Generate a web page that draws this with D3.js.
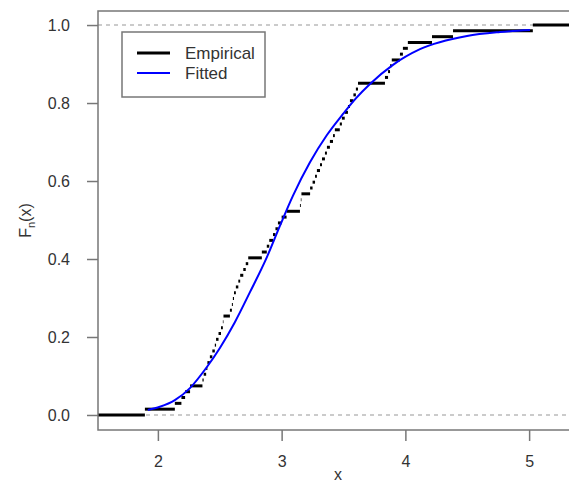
<!DOCTYPE html>
<html>
<head>
<meta charset="utf-8">
<script src="https://cdn.jsdelivr.net/npm/d3@7"></script>
<style>
  body { margin: 0; background: #fff; }
  text { font-family: "Liberation Sans", Arial, sans-serif; }
</style>
</head>
<body>
<div id="chart-area"></div>
<script>
var sample = [1.895, 2.137, 2.19, 2.22, 2.26, 2.36, 2.37, 2.39, 2.40, 2.42,
              2.44, 2.46, 2.47, 2.49, 2.51, 2.525, 2.53, 2.582, 2.598, 2.606,
              2.615, 2.63, 2.65, 2.665, 2.69, 2.71, 2.73, 2.84, 2.88, 2.90,
              2.93, 2.95, 2.97, 3.00, 3.04, 3.148, 3.155, 3.16, 3.23, 3.25,
              3.27, 3.285, 3.31, 3.326, 3.35, 3.366, 3.39, 3.415, 3.43, 3.47,
              3.487, 3.51, 3.536, 3.552, 3.58, 3.60, 3.617, 3.835, 3.86, 3.876,
              3.89, 3.956, 3.98, 4.02, 4.215, 4.385, 5.03];

// fitted curve, points
var fitX = [1.919, 2.016, 2.137, 2.259, 2.396, 2.501, 2.622, 2.744, 2.881, 2.986,
            3.091, 3.229, 3.366, 3.496, 3.600, 3.714, 3.900, 4.118, 4.498, 4.765, 5.007];
var fitY = [0.013, 0.021, 0.038, 0.069, 0.123, 0.172, 0.238, 0.315, 0.405, 0.485,
            0.562, 0.648, 0.718, 0.772, 0.812, 0.849, 0.898, 0.938, 0.972, 0.982, 0.987];

var xTicks = [2, 3, 4, 5];
var yTicks = [0, 0.2, 0.4, 0.6, 0.8, 1.0];
var legendLabels = ["Empirical", "Fitted"];
var legendColors = ["#000", "blue"];

var width = 569;
var height = 484;
var box = {left: 98, right: 578, top: 11, bottom: 430};

var svg = d3.select("#chart-area").append("svg")
            .attr("width", width)
            .attr("height", height);

var x = d3.scaleLinear()
          .domain([1.516, 5.395])
          .range([box.left, box.right]);

var y = d3.scaleLinear()
          .domain([-0.0385, 1.036])
          .range([box.bottom, box.top]);

svg.append("clipPath").attr("id", "plot-clip")
   .append("rect")
   .attr("x", box.left).attr("y", box.top)
   .attr("width", box.right - box.left)
   .attr("height", box.bottom - box.top);

var plot = svg.append("g").attr("clip-path", "url(#plot-clip)");

// gray dotted reference lines at 0 and 1
plot.selectAll(".ref")
    .data([0, 1])
    .enter().append("line")
    .attr("class", "ref")
    .attr("x1", box.left)
    .attr("x2", box.right)
    .attr("y1", (d) => y(d))
    .attr("y2", (d) => y(d))
    .attr("stroke", "#bbb")
    .attr("stroke-width", 1.5)
    .attr("stroke-dasharray", "4,4");

// empirical cdf: horizontal segments only
var n = sample.length;
var segs = d3.range(n + 1).map((i) => {
  return {
    x0: i === 0 ? x.domain()[0] : sample[i - 1],
    x1: i === n ? x.domain()[1] : sample[i],
    level: i / n
  };
});

plot.selectAll(".step")
    .data(segs)
    .enter().append("line")
    .attr("class", "step")
    .attr("x1", (d) => x(d.x0))
    .attr("x2", (d) => x(d.x1))
    .attr("y1", (d) => y(d.level))
    .attr("y2", (d) => y(d.level))
    .attr("stroke", "#000")
    .attr("stroke-width", 3);

// fitted curve
var fitPts = fitX.map((d, i) => [d, fitY[i]]);
var line = d3.line()
             .x((d) => x(d[0]))
             .y((d) => y(d[1]))
             .curve(d3.curveMonotoneX);

plot.append("path")
    .datum(fitPts)
    .attr("d", line)
    .attr("fill", "none")
    .attr("stroke", "blue")
    .attr("stroke-width", 2);

// frame
svg.append("rect")
   .attr("x", box.left).attr("y", box.top)
   .attr("width", box.right - box.left)
   .attr("height", box.bottom - box.top)
   .attr("fill", "none")
   .attr("stroke", "#777")
   .attr("stroke-width", 1.5);

// axes
var xAxisGroup = svg.append("g")
                    .attr("transform", "translate(0," + box.bottom + ")")
                    .call(d3.axisBottom(x).tickValues(xTicks).tickSize(11).tickPadding(15)
                            .tickFormat(d3.format("d")));

var yAxisGroup = svg.append("g")
                    .attr("transform", "translate(" + box.left + ",0)")
                    .call(d3.axisLeft(y).tickValues(yTicks).tickSize(11).tickPadding(17)
                            .tickFormat(d3.format(".1f")));

[xAxisGroup, yAxisGroup].forEach((g) => {
  g.select(".domain").remove();
  g.selectAll(".tick line").attr("stroke", "#777").attr("stroke-width", 1.5);
  g.selectAll(".tick text")
   .attr("fill", "#333")
   .attr("font-size", "16px")
   .attr("font-family", "Liberation Sans, Arial, sans-serif");
});

// axis titles
svg.append("text")
   .attr("x", (box.left + box.right) / 2)
   .attr("y", 480)
   .attr("text-anchor", "middle")
   .attr("font-size", "16px")
   .attr("fill", "#333")
   .text("x");

var yLabel = svg.append("text")
                .attr("transform", "translate(31," + (box.top + box.bottom) / 2 + ") rotate(-90)")
                .attr("text-anchor", "middle")
                .attr("font-size", "16px")
                .attr("fill", "#333");
yLabel.append("tspan").text("F");
yLabel.append("tspan").attr("font-size", "11px").attr("dy", 4).text("n");
yLabel.append("tspan").attr("dy", -4).text("(x)");

// legend
var legend = svg.append("g");
legend.append("rect")
      .attr("x", 122).attr("y", 32)
      .attr("width", 143).attr("height", 65)
      .attr("fill", "#fff")
      .attr("stroke", "#777")
      .attr("stroke-width", 1.5);

legendLabels.forEach((lab, i) => {
  var ly = 53 + i * 20;
  legend.append("line")
        .attr("x1", 137).attr("x2", 170)
        .attr("y1", ly).attr("y2", ly)
        .attr("stroke", legendColors[i])
        .attr("stroke-width", i === 0 ? 3 : 2);
  legend.append("text")
        .attr("x", 185)
        .attr("y", ly + 6)
        .attr("font-size", "17px")
        .attr("fill", "#333")
        .text(lab);
});
</script>
</body>
</html>
